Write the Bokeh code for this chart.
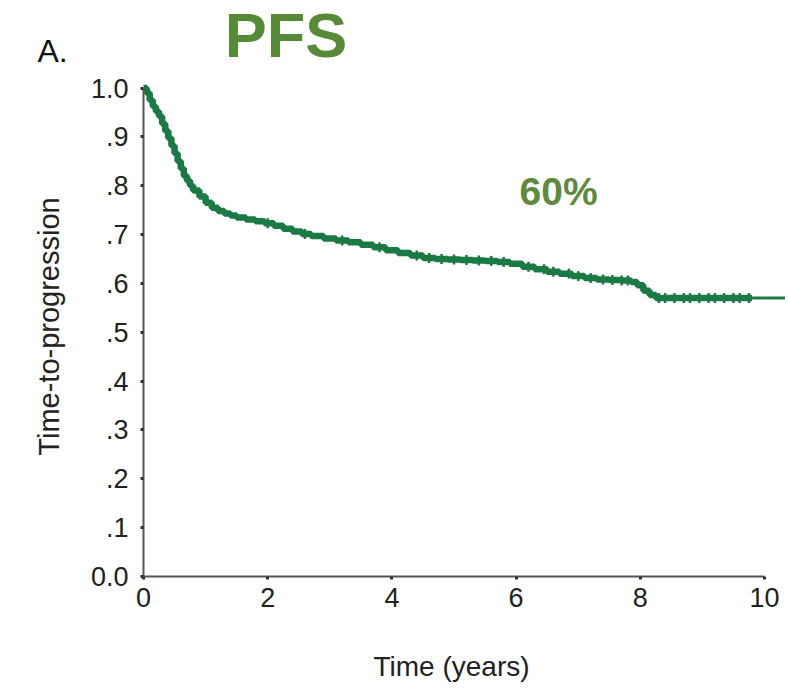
import numpy as np
from bokeh.plotting import figure
from bokeh.models import Range1d, FixedTicker, CustomJSTickFormatter, Label, LinearAxis
from bokeh.embed import file_html
from bokeh.resources import INLINE

# ---- data ----
times = [0.0, 0.05, 0.1, 0.15, 0.2, 0.25, 0.3, 0.35, 0.4, 0.45, 0.5, 0.55, 0.6, 0.65, 0.7,
         0.75, 0.8, 0.9, 1.0, 1.1, 1.2, 1.3, 1.4, 1.5, 1.65, 1.8, 1.95, 2.1, 2.25, 2.4,
         2.55, 2.7, 2.9, 3.1, 3.3, 3.5, 3.7, 3.9, 4.1, 4.3, 4.5, 4.7, 4.9, 5.1, 5.3, 5.5,
         5.7, 5.9, 6.1, 6.3, 6.5, 6.7, 6.9, 7.1, 7.3, 7.5, 7.7, 7.85, 7.95, 8.05, 8.15, 8.25]
surv = [1.0, 0.99, 0.975, 0.962, 0.952, 0.942, 0.927, 0.912, 0.897, 0.882, 0.866, 0.85, 0.835,
        0.82, 0.81, 0.8, 0.79, 0.778, 0.765, 0.755, 0.748, 0.743, 0.739, 0.735, 0.731, 0.727,
        0.723, 0.718, 0.712, 0.706, 0.701, 0.697, 0.692, 0.688, 0.684, 0.679, 0.674, 0.668,
        0.662, 0.657, 0.652, 0.65, 0.649, 0.648, 0.647, 0.646, 0.644, 0.64, 0.634, 0.629,
        0.624, 0.62, 0.615, 0.611, 0.608, 0.607, 0.606, 0.603, 0.596, 0.585, 0.576, 0.57]
censor_times = [2.0, 2.6, 3.2, 3.8, 4.4, 4.6, 4.8, 5.0, 5.2, 5.4, 5.6, 5.8, 6.2, 6.45, 6.6,
                6.85, 7.0, 7.2, 7.4, 7.55, 7.7, 7.8, 8.3, 8.4, 8.55, 8.7, 8.8, 8.95, 9.1,
                9.2, 9.35, 9.5, 9.6, 9.75]
last_censor = 9.8
followup_end = 10.33

x_ticks = [0, 2, 4, 6, 8, 10]
y_ticks = [0.0, 0.1, 0.2, 0.3, 0.4, 0.5, 0.6, 0.7, 0.8, 0.9, 1.0]
y_tick_labels = ["0.0", ".1", ".2", ".3", ".4", ".5", ".6", ".7", ".8", ".9", "1.0"]

title_text = "PFS"
panel_text = "A."
annot_text = "60%"
x_label = "Time (years)"
y_label = "Time-to-progression"

CURVE = "#1b7a43"
OLIVE = "#578a36"
FONT = "Liberation Sans"

# ---- layout: frame covers whole canvas, axes fixed at the data origin ----
W, H = 788, 688
X0_PX, Y0_PX = 143, 576        # pixel position of the origin
PX_PER_X, PX_PER_Y = 62.1, 488.5

p = figure(width=W, height=H, output_backend="svg", toolbar_location=None,
           x_axis_location=None, y_axis_location=None,
           x_range=Range1d(-X0_PX / PX_PER_X, (W - X0_PX) / PX_PER_X),
           y_range=Range1d(-(H - Y0_PX) / PX_PER_Y, Y0_PX / PX_PER_Y),
           min_border_left=0, min_border_right=0, min_border_top=0, min_border_bottom=0)
p.background_fill_color = "white"
p.border_fill_color = "white"
p.outline_line_color = None
p.grid.visible = False

xaxis = LinearAxis(fixed_location=0, ticker=FixedTicker(ticks=x_ticks), bounds=(0, 10))
yaxis = LinearAxis(fixed_location=0, ticker=FixedTicker(ticks=y_ticks), bounds=(0, 1))
yaxis.formatter = CustomJSTickFormatter(args=dict(yt=y_ticks, yl=y_tick_labels), code="""
const i = yt.findIndex(t => Math.abs(t - tick) < 1e-9);
return i >= 0 ? yl[i] : '';
""")
for ax in (xaxis, yaxis):
    ax.axis_line_color = "#555555"
    ax.axis_line_width = 2
    ax.major_tick_line_color = "#333333"
    ax.major_tick_line_width = 3
    ax.major_tick_out = 3
    ax.major_tick_in = 0
    ax.minor_tick_line_color = None
    ax.major_label_text_font = FONT
    ax.major_label_text_font_size = "27px"
    ax.major_label_text_color = "#222222"
xaxis.major_label_standoff = 8
yaxis.major_label_standoff = 12
p.add_layout(xaxis, "below")
p.add_layout(yaxis, "left")

# main step curve
xs = times + [last_censor]
ys = surv + [surv[-1]]
p.step(xs, ys, mode="after", line_color=CURVE, line_width=6.5)
# thin tail of follow-up
p.line([last_censor, followup_end], [surv[-1], surv[-1]], line_color=CURVE, line_width=3)

# censor marks
idx = np.searchsorted(np.array(times), np.array(censor_times), side="right") - 1
cy = [surv[i] for i in idx]
p.scatter(censor_times, cy, marker="dash", angle=np.pi / 2, size=10,
          line_color=CURVE, line_width=2.5)

# texts
def px_x(px):
    return (px - X0_PX) / PX_PER_X

def px_y(py):
    return (Y0_PX - py) / PX_PER_Y

p.add_layout(Label(x=px_x(285.5), y=px_y(34.5), text=title_text, text_align="center",
                   text_baseline="middle", text_font=FONT, text_font_size="63px",
                   text_font_style="bold", text_color=OLIVE))
p.add_layout(Label(x=px_x(37), y=px_y(50.5), text=panel_text, text_align="left",
                   text_baseline="middle", text_font=FONT, text_font_size="32px",
                   text_color="#111111"))
p.add_layout(Label(x=px_x(519), y=px_y(191), text=annot_text, text_align="left",
                   text_baseline="middle", text_font=FONT, text_font_size="39px",
                   text_font_style="bold", text_color="#5e8a3c"))
p.add_layout(Label(x=px_x(451), y=px_y(666), text=x_label, text_align="center",
                   text_baseline="middle", text_font=FONT, text_font_size="28px",
                   text_color="#222222"))
p.add_layout(Label(x=px_x(48), y=px_y(326), text=y_label, text_align="center",
                   text_baseline="middle", angle=np.pi / 2, text_font=FONT,
                   text_font_size="29px", text_color="#222222"))

open("out.html", "w").write(file_html(p, INLINE))
